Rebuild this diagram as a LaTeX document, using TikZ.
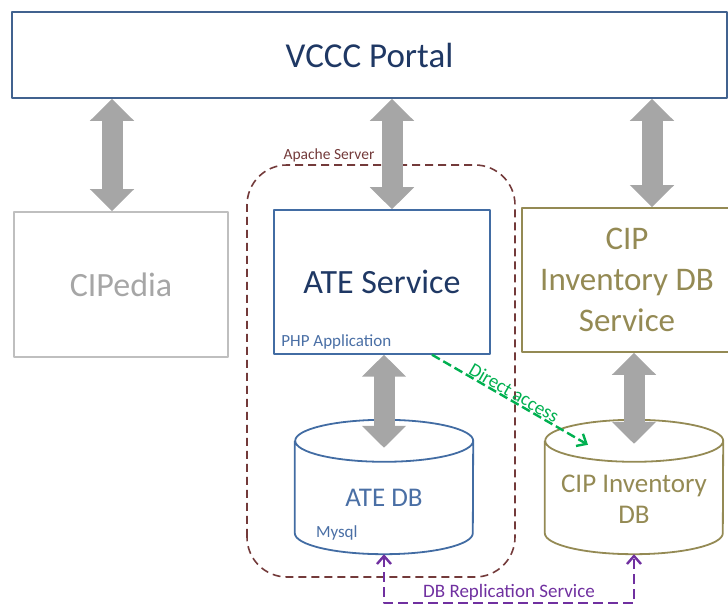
\documentclass[tikz,border=0pt]{standalone}
\usepackage{fontspec}
\setmainfont{Carlito}
\usetikzlibrary{arrows.meta,calc}

\definecolor{portalblue}{HTML}{41628F}
\definecolor{navytext}{HTML}{1F3864}
\definecolor{ateblue}{HTML}{426CA3}
\definecolor{lightblue}{HTML}{4A6FA5}
\definecolor{paleborder}{HTML}{BFBFBF}
\definecolor{paletext}{HTML}{A6A6A6}
\definecolor{olive}{HTML}{948A54}
\definecolor{apachered}{HTML}{733A3A}
\definecolor{arrowgray}{HTML}{A6A6A6}
\definecolor{accessgreen}{HTML}{00B050}
\definecolor{replpurple}{HTML}{7030A0}

\newcommand{\fsz}[2]{\fontsize{#1}{#2}\selectfont}

\begin{document}
\begin{tikzpicture}[x=1pt, y=1pt, line join=round, >={Straight Barb[length=8pt,width=14pt]}, font=\fsz{17}{20}]
	\tikzset{
		box/.style={draw, line width=1.8pt, inner sep=0pt, align=center},
		bigarrow/.style={draw=arrowgray, line width=21pt, {Triangle[length=22pt,width=43pt]}-{Triangle[length=22pt,width=43pt]}},
		dbnode/.style={minimum width=#1, minimum height=134, inner sep=0pt},
		tag/.style={inner sep=0pt, anchor=base west, font=\fsz{17}{20}, lightblue}
	}
	\useasboundingbox (0,0) rectangle (728,610);

	% boxes
	\node[box, draw=portalblue, text=navytext, font=\fsz{35}{40}, minimum width=715, minimum height=86] (portal) at (369.5,555) {VCCC Portal};
	\node[box, draw=paleborder, text=paletext, font=\fsz{34}{40}, minimum width=214, minimum height=145] (cipedia) at (121,325.5) {CIPedia};
	\node[box, draw=ateblue, line width=1.5pt, text=navytext, font=\fsz{34}{40}, minimum width=216, minimum height=144] (ate) at (382,328) {ATE Service};
	\node[box, draw=olive, text=olive, font=\fsz{33}{41}, minimum width=210, minimum height=144] (cipsrv) at (627,330) {CIP\\Inventory DB\\Service};
	\node[tag] (php) at ([xshift=8,yshift=8]ate.south west) {PHP Application};

	% apache server frame
	\draw[apachered, line width=1.6pt, dash pattern=on 8pt off 5pt, rounded corners=40pt] (247,33) rectangle (515,445);
	\node[apachered, font=\fsz{15.5}{18}] (apache) at (329,455) {Apache Server};

	% databases
	\node[dbnode=178] (atedb) at (384,123) {};
	\node[dbnode=178] (cipdb) at (634,123) {};
	\foreach \n/\c in {atedb/ateblue, cipdb/olive}
	\draw[\c, line width=1.8pt] ([yshift=-21]\n.north west) -- ([yshift=21]\n.south west)
		arc[start angle=180, end angle=360, x radius=89, y radius=21]
		-- ([yshift=-21]\n.north east)
		arc[start angle=0, end angle=360, x radius=89, y radius=21];
	\node[font=\fsz{27}{31}, text=lightblue] (atedbtext) at ([yshift=-11]atedb.center) {ATE DB};
	\node[font=\fsz{27}{31}, text=olive, align=center] (cipdbtext) at ([yshift=-12]cipdb.center) {CIP Inventory\\DB};
	\node[tag] (mysql) at ([xshift=21,yshift=17]atedb.south west) {Mysql};

	\path (cipsrv.south -| cipdb.north) coordinate (cipA)
	([yshift=-24]cipdb.north) coordinate (cipB)
	([xshift=-46,yshift=-25]cipdb.north) coordinate (hit);

	% links to the portal
	\draw[bigarrow] ([xshift=-9]cipedia.north) -- ([xshift=-9]cipedia.north |- portal.south);
	\draw[bigarrow] ([xshift=10]ate.north) -- ([xshift=10]ate.north |- portal.south);
	\draw[bigarrow] ([xshift=25]cipsrv.north) -- ([xshift=25]cipsrv.north |- portal.south);
	% service to database
	\draw[bigarrow] (ate.south -| atedb.north) -- ([yshift=-28]atedb.north);
	\draw[bigarrow] (cipA) -- (cipB);

	%\draw[accessgreen] (ate.south east) -- (cipdb.north);
	\draw[->, accessgreen, line width=2.4pt, dash pattern=on 9pt off 4pt] ([xshift=50]ate.south) -- (hit)
		node[pos=0.5, above, sloped, inner sep=0.5pt, font=\fsz{19}{20}] {Direct access};
	\draw[<->, replpurple, line width=2.4pt, dash pattern=on 10pt off 5pt] (atedb.south) -- ++(0,-49) -| (cipdb.south)
		node[pos=0.25, above, inner sep=1pt, font=\fsz{19}{22}] {DB Replication Service};
\end{tikzpicture}
\end{document}
